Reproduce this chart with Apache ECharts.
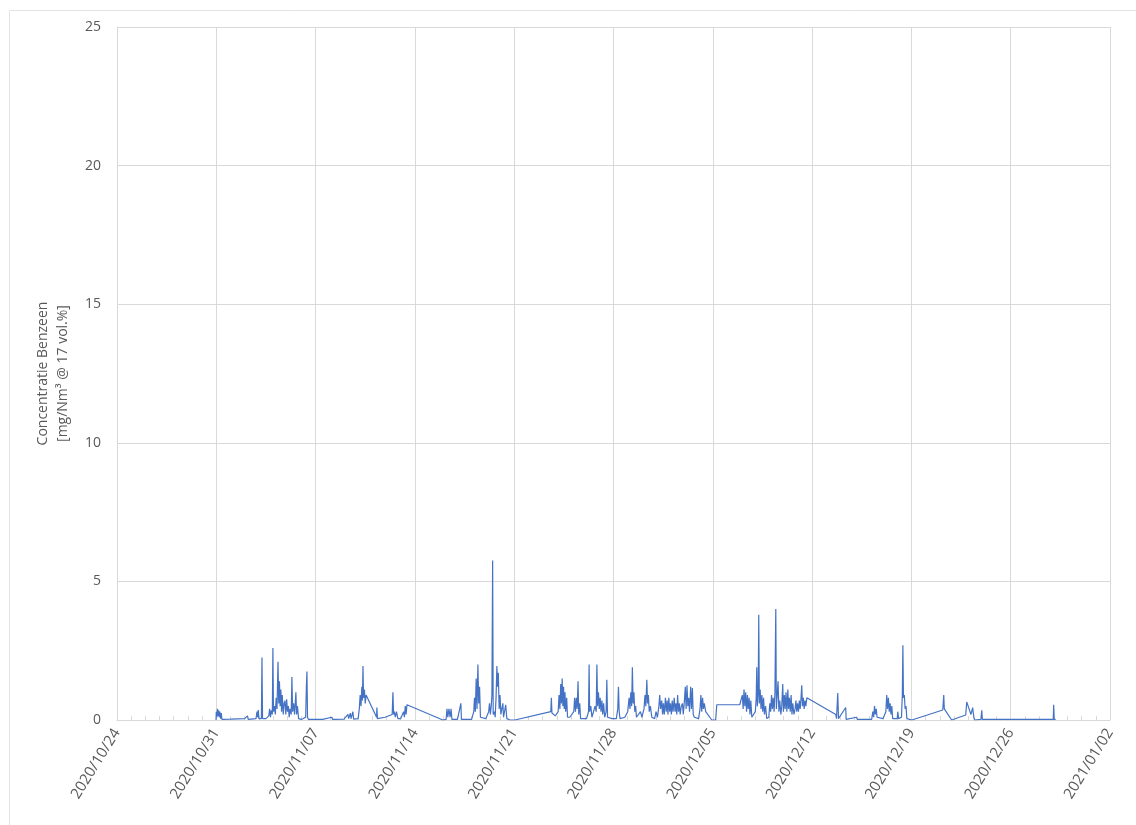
<!DOCTYPE html>
<html>
<head>
<meta charset="utf-8">
<script src="https://cdn.jsdelivr.net/npm/echarts@6/dist/echarts.min.js"></script>
<style>
html,body{margin:0;padding:0;background:#fff;}
#chart{width:1136px;height:825px;}
</style>
</head>
<body>
<div id="chart"></div>
<script>
// x values: days since 2020/10/24 00:00
var xTickLabels = ['2020/10/24','2020/10/31','2020/11/07','2020/11/14','2020/11/21','2020/11/28','2020/12/05','2020/12/12','2020/12/19','2020/12/26','2021/01/02'];
var yTicks = [0, 5, 10, 15, 20, 25];
var yAxisTitle = 'Concentratie Benzeen\n[mg/Nm\u00b3 @ 17 vol.%]';

var benzeneSeries = [
[6.98,0],[7.00,0.30],[7.04,0.10],[7.08,0.40],[7.12,0.15],[7.16,0.35],[7.20,0.10],[7.25,0.30],[7.30,0.05],[7.35,0.25],[7.40,0.02],
[8.00,0.03],[9.00,0.05],[9.20,0.15],[9.25,0.02],[9.80,0.05],[9.87,0.30],[9.92,0.10],[9.96,0.36],[10.00,0.05],[10.18,0.05],[10.22,2.25],[10.26,0.05],
[10.50,0.05],[10.70,0.15],[10.76,0.40],[10.82,0.10],[10.88,0.35],[10.95,0.20],[10.99,2.60],[11.03,0.30],[11.10,0.50],[11.16,0.20],[11.22,0.80],
[11.28,0.40],[11.35,2.10],[11.40,0.60],[11.45,1.40],[11.50,0.50],[11.55,1.10],[11.60,0.30],[11.65,0.90],[11.72,0.20],[11.78,0.60],[11.84,0.70],
[11.90,0.20],[11.96,0.75],[12.02,0.30],[12.08,0.50],[12.14,0.10],[12.20,0.40],[12.28,0.20],[12.33,1.55],[12.38,0.30],[12.45,0.60],[12.52,0.20],
[12.61,1.00],[12.66,0.20],[12.72,0.50],[12.80,0.05],[13.00,0.02],[13.30,0.10],[13.35,1.20],[13.39,1.75],[13.43,0.10],[13.50,0.02],
[14.50,0.02],[15.15,0.10],[15.20,0.02],[16.00,0.03],[16.28,0.20],[16.33,0.05],[16.45,0.25],[16.50,0.05],[16.63,0.30],[16.68,0.03],[17.00,0.05],
[17.08,0.40],[17.14,0.90],[17.20,0.50],[17.26,1.20],[17.30,0.70],[17.34,1.95],[17.38,0.80],[17.44,1.10],[17.50,0.60],[17.56,0.90],[18.30,0.10],
[18.32,0.45],[18.36,0.05],[18.90,0.10],[19.00,0.05],[19.40,0.20],[19.45,1.00],[19.50,0.20],[19.55,0.30],[19.62,0.10],[19.70,0.30],[19.80,0.05],
[20.00,0.05],[20.20,0.30],[20.26,0.10],[20.32,0.50],[20.38,0.20],[20.44,0.55],[22.97,0.00],[23.20,0.02],[23.26,0.40],[23.32,0.10],[23.40,0.40],
[23.48,0.10],[23.55,0.40],[23.61,0.02],[24.00,0.02],[24.24,0.60],[24.28,0.02],[25.00,0.02],[25.15,0.30],[25.20,0.80],[25.26,0.30],[25.32,1.50],
[25.38,0.40],[25.44,2.00],[25.50,0.60],[25.56,1.20],[25.62,0.10],[26.00,0.05],[26.20,0.30],[26.26,0.60],[26.32,0.20],[26.38,0.50],[26.43,0.90],
[26.48,5.75],[26.52,0.20],[26.60,0.30],[26.66,0.10],[26.72,0.80],[26.78,1.95],[26.82,1.20],[26.88,1.70],[26.94,0.40],[27.00,0.90],[27.06,0.20],
[27.20,0.60],[27.25,0.10],[27.40,0.55],[27.48,0.05],[27.70,0.00],[28.05,0.00],[30.58,0.30],[30.62,0.80],[30.66,0.25],
[30.70,0.20],[30.90,0.15],[31.10,0.30],[31.16,0.90],[31.22,0.40],[31.28,1.30],[31.33,0.60],[31.38,1.50],[31.43,0.50],[31.48,1.20],[31.53,0.40],
[31.58,1.00],[31.63,0.30],[31.70,0.80],[31.76,0.10],[31.92,0.10],[32.00,0.05],[32.20,0.30],[32.26,0.80],[32.32,0.30],[32.38,0.80],[32.44,0.40],
[32.50,1.40],[32.55,0.20],[32.62,0.60],[32.68,0.05],[33.10,0.05],[33.24,0.30],[33.28,2.00],[33.32,0.30],[33.40,0.50],[33.48,0.10],[33.60,0.15],
[33.70,0.50],[33.78,0.30],[33.83,2.00],[33.88,0.50],[33.94,1.00],[34.00,0.40],[34.06,0.80],[34.12,0.30],[34.18,0.70],[34.24,0.20],[34.30,0.60],
[34.38,0.10],[34.48,0.30],[34.53,1.45],[34.58,0.10],[34.90,0.05],[35.20,0.05],[35.30,0.40],[35.35,1.20],[35.40,0.30],[35.46,0.05],[35.80,0.10],
[36.00,0.30],[36.10,0.80],[36.16,0.40],[36.22,1.00],[36.28,0.50],[36.33,1.90],[36.38,0.60],[36.44,1.00],[36.50,0.30],[36.56,0.50],[36.62,0.10],
[36.90,0.30],[37.00,0.10],[37.15,0.40],[37.22,0.90],[37.28,0.50],[37.35,1.45],[37.40,0.60],[37.46,0.90],[37.52,0.30],[37.60,0.50],[37.70,0.10],
[37.90,0.05],[38.00,0.30],[38.10,0.10],[38.20,0.50],[38.26,0.90],[38.32,0.40],[38.40,0.70],[38.46,0.20],[38.52,0.60],[38.58,0.20],[38.66,0.80],
[38.72,0.30],[38.78,0.70],[38.84,0.20],[38.90,0.80],[38.96,0.30],[39.02,0.60],[39.08,0.20],[39.14,0.70],[39.20,0.30],[39.28,0.80],[39.34,0.30],
[39.40,0.60],[39.46,0.20],[39.52,0.90],[39.58,0.30],[39.64,0.60],[39.70,0.20],[39.78,0.50],[39.86,0.60],[39.92,0.20],[40.00,0.70],[40.06,1.20],
[40.12,0.40],[40.18,1.25],[40.24,0.50],[40.30,0.80],[40.36,0.30],[40.44,1.20],[40.50,0.40],[40.56,1.15],[40.62,0.20],[40.70,0.10],[40.80,0.05],
[41.00,0.05],[41.10,0.40],[41.16,0.90],[41.22,0.30],[41.28,0.80],[41.34,0.40],[41.40,0.60],[41.50,0.30],[41.93,0.00],[42.20,0.00],[42.28,0.55],
[43.90,0.55],[44.00,0.50],[44.08,0.90],[44.14,0.40],[44.20,1.10],[44.26,0.50],[44.32,1.00],[44.38,0.30],[44.44,0.90],[44.50,0.40],[44.56,0.80],
[44.62,0.20],[44.68,0.70],[44.75,0.10],[44.85,0.05],[45.00,0.30],[45.06,0.80],[45.10,1.90],[45.14,0.50],[45.20,1.00],[45.24,3.80],[45.28,0.60],
[45.34,1.10],[45.40,0.40],[45.46,0.90],[45.52,0.30],[45.58,0.80],[45.64,0.20],[45.72,0.50],[45.80,0.05],[45.95,0.10],[46.02,0.60],[46.08,0.30],
[46.14,0.90],[46.20,0.40],[46.26,0.80],[46.32,0.30],[46.38,1.00],[46.44,4.00],[46.48,0.40],[46.54,0.90],[46.60,1.40],[46.66,0.30],[46.72,0.70],
[46.80,0.20],[46.86,0.50],[46.93,1.30],[46.98,0.30],[47.04,0.90],[47.10,0.40],[47.16,1.00],[47.22,0.30],[47.29,1.10],[47.34,0.40],[47.40,0.80],
[47.46,0.30],[47.52,0.90],[47.58,0.20],[47.64,0.60],[47.72,0.20],[47.80,0.40],[47.86,0.70],[47.92,0.30],[47.98,0.60],[48.04,0.30],[48.10,0.70],
[48.16,0.40],[48.22,0.80],[48.27,1.25],[48.32,0.50],[48.38,0.80],[48.44,0.40],[48.50,0.70],[48.56,0.50],[48.63,0.80],[50.67,0.20],[50.72,0.05],
[50.81,0.97],[50.86,0.05],[51.00,0.02],[51.37,0.45],[51.40,0.02],[52.15,0.10],[52.18,0.02],[53.20,0.02],[53.28,0.30],[53.34,0.10],[53.40,0.50],
[53.46,0.20],[53.52,0.40],[53.58,0.10],[53.65,0.05],[54.00,0.05],[54.20,0.30],[54.26,0.90],[54.32,0.40],[54.38,0.80],[54.44,0.30],[54.50,0.60],
[54.56,0.20],[54.62,0.50],[54.68,0.05],[55.00,0.05],[55.04,0.30],[55.10,0.05],[55.30,0.10],[55.36,0.90],[55.40,2.70],[55.44,0.80],[55.50,0.90],
[55.56,0.40],[55.62,0.50],[55.68,0.05],[56.03,0.00],[58.21,0.36],[58.28,0.90],[58.32,0.40],[58.84,0.00],[59.83,0.18],[59.90,0.65],[60.00,0.50],
[60.11,0.50],[60.20,0.20],[60.32,0.45],[60.40,0.10],[60.46,0.00],[60.90,0.02],[60.96,0.35],[61.00,0.02],[62.00,0.02],[63.00,0.02],[64.00,0.02],
[65.00,0.02],[66.00,0.02],[66.03,0.55],[66.07,0.02],[66.17,0.02]
];

var chart = echarts.init(document.getElementById('chart'), null, {renderer:'canvas'});
var grey = '#595959';
var gridColor = '#d9d9d9';
chart.setOption({
  animation: false,
  backgroundColor: '#ffffff',
  graphic: [{
    type: 'rect', left: 7, top: 8, shape: {width: 1127, height: 840},
    style: {fill: 'none', stroke: '#e3e3e3', lineWidth: 1}, silent: true
  }],
  grid: {left: 117, right: 26, top: 27, bottom: 105, containLabel: false},
  xAxis: {
    type: 'value', min: 0, max: (xTickLabels.length - 1) * 7, interval: 7,
    axisLine: {show: true, lineStyle: {color: gridColor}},
    axisTick: {show: true, inside: true, length: 4, lineStyle: {color: gridColor}},
    minorTick: {show: true, splitNumber: 7, length: 4, lineStyle: {color: gridColor}},
    splitLine: {show: true, lineStyle: {color: gridColor, width: 1}},
    axisLabel: {
      rotate: 58, color: grey, fontSize: 15, fontFamily: 'Open Sans', margin: 10,
      formatter: function (v) { return xTickLabels[Math.round(v / 7)]; }
    }
  },
  yAxis: {
    type: 'value', min: yTicks[0], max: yTicks[yTicks.length - 1], interval: yTicks[1] - yTicks[0],
    name: yAxisTitle, nameLocation: 'middle', nameGap: 44,
    nameTextStyle: {color: grey, fontSize: 14, fontFamily: 'Open Sans', lineHeight: 20},
    axisLine: {show: true, lineStyle: {color: gridColor}},
    axisTick: {show: false},
    splitLine: {show: true, lineStyle: {color: gridColor, width: 1}},
    axisLabel: {color: grey, fontSize: 14, fontFamily: 'Open Sans', margin: 16}
  },
  series: [{
    type: 'line', data: benzeneSeries, showSymbol: false, sampling: 'none',
    lineStyle: {color: '#4472C4', width: 1.2}, itemStyle: {color: '#4472C4'}
  }]
});
</script>
</body>
</html>
